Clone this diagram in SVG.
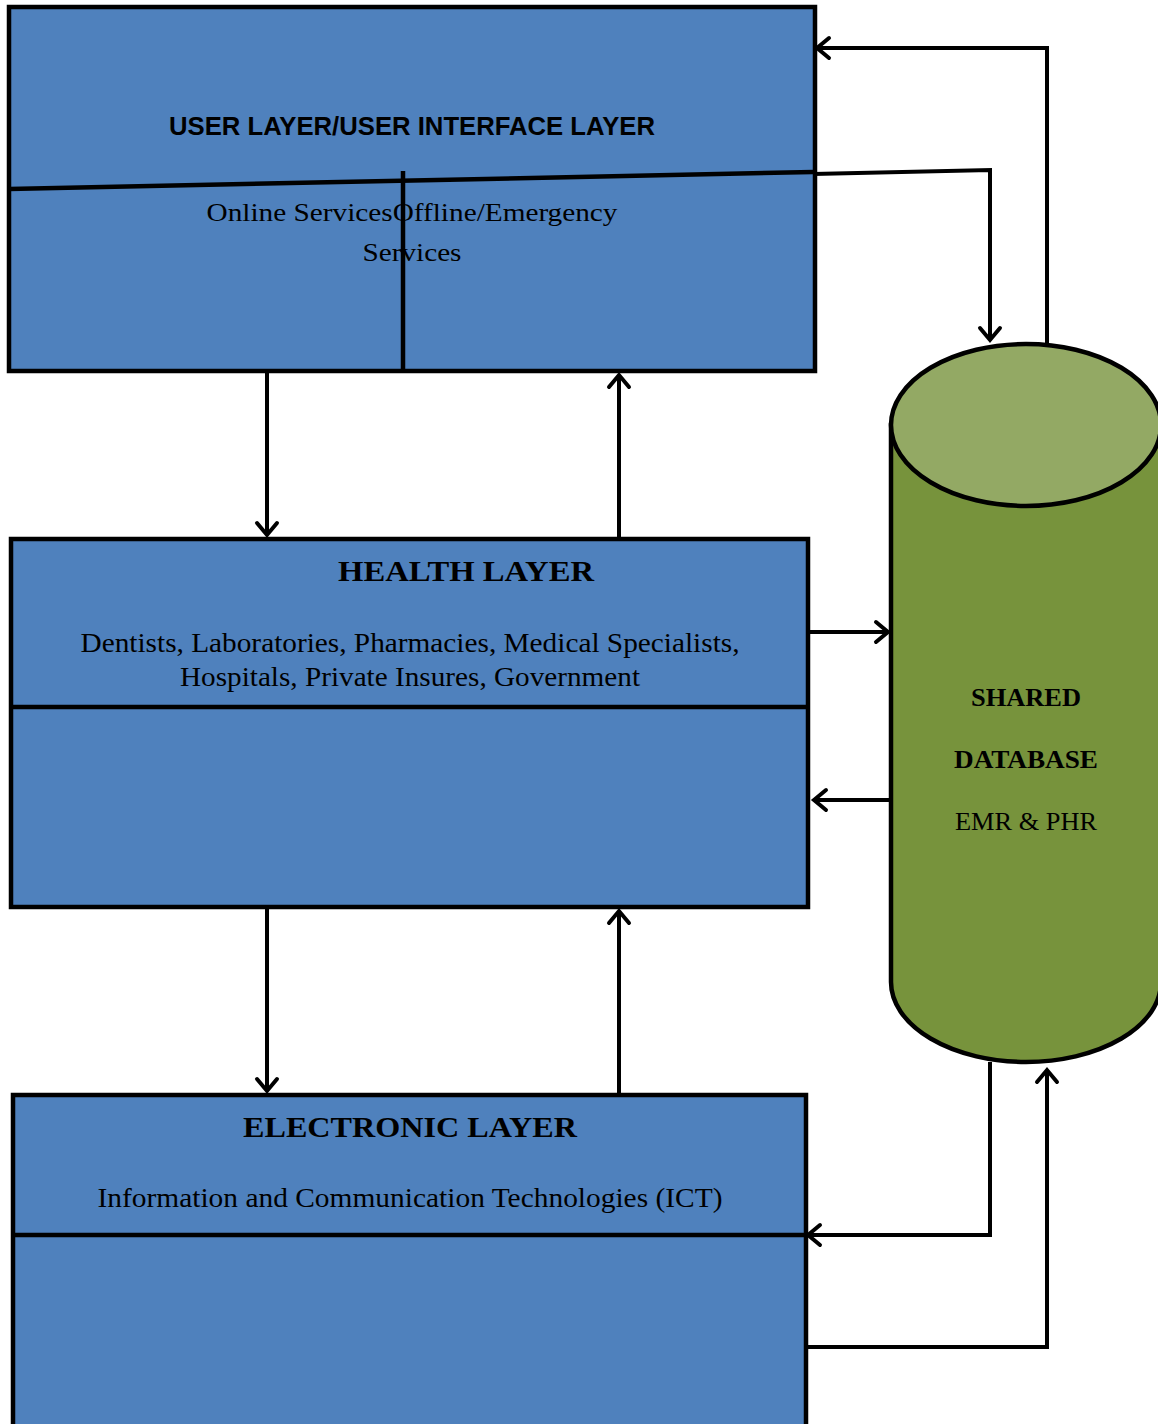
<svg xmlns="http://www.w3.org/2000/svg" width="1158" height="1424" viewBox="0 0 1158 1424">
<defs>
<style>
.box{fill:#4F81BD;stroke:#000;stroke-width:4.5}
.div{stroke:#000;stroke-width:4.5;fill:none}
.con{stroke:#000;stroke-width:4;fill:none}
.ser{font-family:"Liberation Serif","Times New Roman",serif;fill:#000;text-anchor:middle}
.b{font-weight:bold}
.sans{font-family:"Liberation Sans",Arial,sans-serif;font-weight:bold;fill:#000;text-anchor:middle}
</style>
<marker id="arr" markerUnits="userSpaceOnUse" markerWidth="30" markerHeight="30" viewBox="-15 -15 30 30" refX="0" refY="0" orient="auto">
<path d="M-12,-10 L0,0 L-12,10" fill="none" stroke="#000" stroke-width="4" stroke-linecap="round"/>
</marker>
</defs>
<rect width="1158" height="1424" fill="#fff"/>

<g id="user-layer">
<rect class="box" x="9" y="7" width="806" height="364"/>
<line class="div" x1="9" y1="189" x2="813" y2="172"/>
<line class="div" x1="403" y1="171" x2="403" y2="371"/>
<text class="sans" x="412" y="135" font-size="26" textLength="486" lengthAdjust="spacingAndGlyphs">USER LAYER/USER INTERFACE LAYER</text>
<text class="ser" x="412" y="221" font-size="26" textLength="411" lengthAdjust="spacingAndGlyphs">Online ServicesOffline/Emergency</text>
<text class="ser" x="412" y="261" font-size="26" textLength="99" lengthAdjust="spacingAndGlyphs">Services</text>
</g>

<g id="health-layer">
<rect class="box" x="11" y="539" width="797" height="368"/>
<line class="div" x1="11" y1="707" x2="808" y2="707"/>
<text class="ser b" x="466" y="581" font-size="30" textLength="256" lengthAdjust="spacingAndGlyphs">HEALTH LAYER</text>
<text class="ser" x="410" y="652" font-size="27" textLength="659" lengthAdjust="spacingAndGlyphs">Dentists, Laboratories, Pharmacies, Medical Specialists,</text>
<text class="ser" x="410" y="686" font-size="27" textLength="460" lengthAdjust="spacingAndGlyphs">Hospitals, Private Insures, Government</text>
</g>

<g id="electronic-layer">
<rect class="box" x="13" y="1095" width="793" height="340"/>
<line class="div" x1="13" y1="1235" x2="806" y2="1235"/>
<text class="ser b" x="410" y="1137" font-size="30" textLength="334" lengthAdjust="spacingAndGlyphs">ELECTRONIC LAYER</text>
<text class="ser" x="410" y="1207" font-size="27" textLength="625" lengthAdjust="spacingAndGlyphs">Information and Communication Technologies (ICT)</text>
</g>

<g id="shared-database">
<path d="M891,425 L891,982 A135,80 0 0 0 1161,982 L1161,425 Z" fill="#77933C" stroke="#000" stroke-width="4.5"/>
<ellipse cx="1026" cy="425" rx="135" ry="81" fill="#93A964" stroke="#000" stroke-width="4.5"/>
<text class="ser b" x="1026" y="706" font-size="26" textLength="110" lengthAdjust="spacingAndGlyphs">SHARED</text>
<text class="ser b" x="1026" y="768" font-size="26" textLength="144" lengthAdjust="spacingAndGlyphs">DATABASE</text>
<text class="ser" x="1026" y="830" font-size="26" textLength="142" lengthAdjust="spacingAndGlyphs">EMR &amp; PHR</text>
</g>

<g id="connectors">
<polyline class="con" points="1047,343 1047,48 817,48" marker-end="url(#arr)"/>
<polyline class="con" points="813,174 990,170 990,340" marker-end="url(#arr)"/>
<line class="con" x1="267" y1="371" x2="267" y2="535" marker-end="url(#arr)"/>
<line class="con" x1="619" y1="541" x2="619" y2="375" marker-end="url(#arr)"/>
<line class="con" x1="810" y1="632" x2="888" y2="632" marker-end="url(#arr)"/>
<line class="con" x1="891" y1="800" x2="814" y2="800" marker-end="url(#arr)"/>
<line class="con" x1="267" y1="907" x2="267" y2="1091" marker-end="url(#arr)"/>
<line class="con" x1="619" y1="1093" x2="619" y2="911" marker-end="url(#arr)"/>
<polyline class="con" points="990,1062 990,1235 808,1235" marker-end="url(#arr)"/>
<polyline class="con" points="808,1347 1047,1347 1047,1070" marker-end="url(#arr)"/>
</g>
</svg>
